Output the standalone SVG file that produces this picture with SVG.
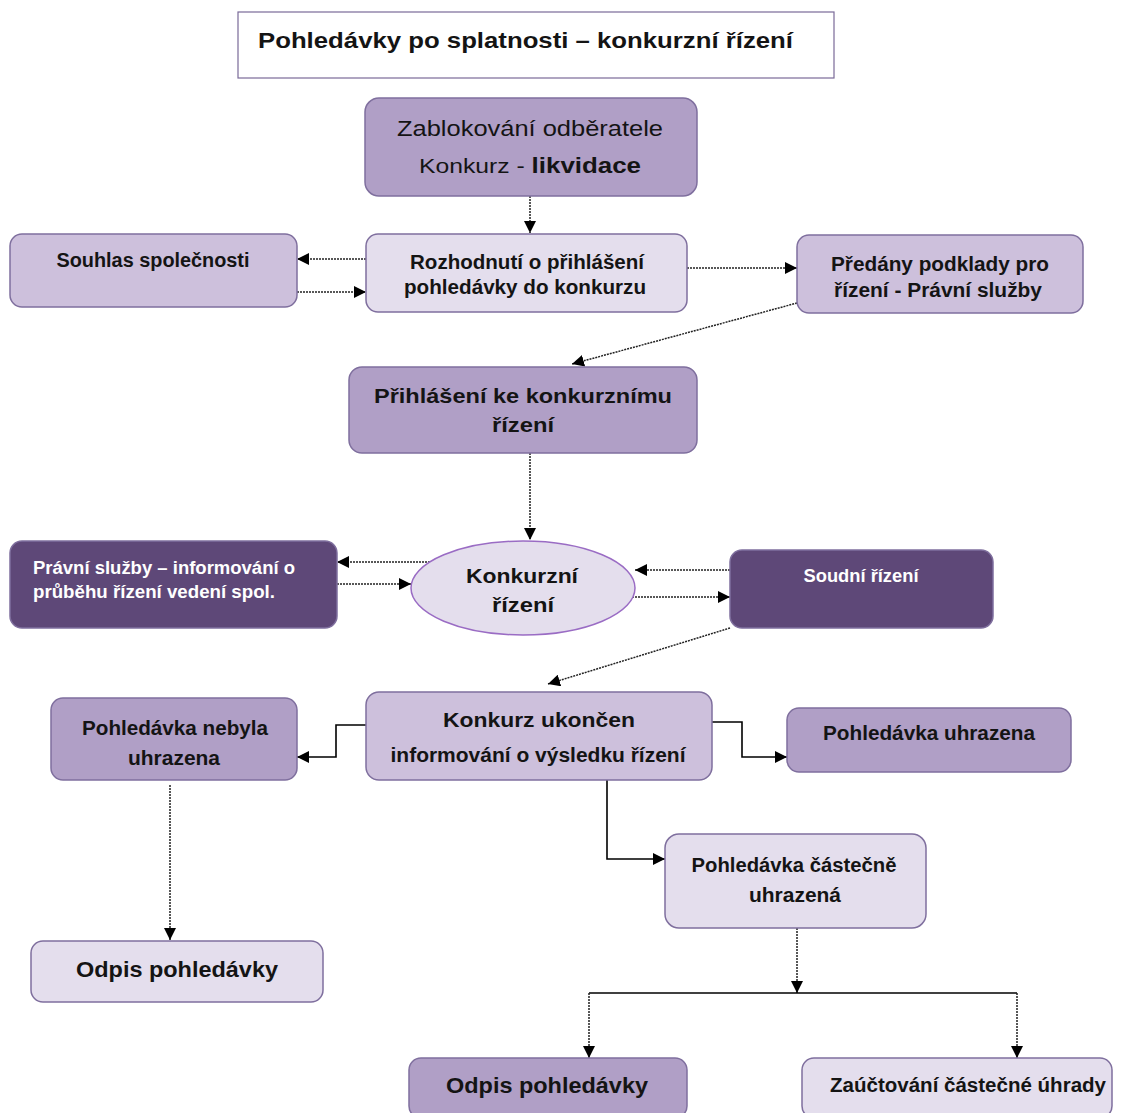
<svg xmlns="http://www.w3.org/2000/svg" width="1133" height="1113" viewBox="0 0 1133 1113">
<defs>
<marker id="ah" viewBox="0 0 10 10" refX="10" refY="5" markerWidth="12" markerHeight="12" markerUnits="userSpaceOnUse" orient="auto">
<path d="M0,0 L10,5 L0,10 z" fill="#000"/>
</marker>
<style>
.box{stroke:#7f6f9e;stroke-width:1.5}
.mid{fill:#b09fc6}
.lt{fill:#cdc0dc}
.vl{fill:#e4deed}
.dk{fill:#5e4878}
text{font-family:"Liberation Sans",Arial,sans-serif;font-weight:bold;fill:#141414;text-anchor:middle;font-size:20px}
.w{fill:#ffffff}
.dot{fill:none;stroke:#222;stroke-width:1.5;stroke-dasharray:2,1}
.sol{fill:none;stroke:#000;stroke-width:1.6}
</style>
</defs>
<rect width="1133" height="1113" fill="#fff"/>

<g id="title">
<rect x="238" y="12" width="596" height="66" fill="#fff" stroke="#7a6a98" stroke-width="1.2"/>
<text x="258" y="48" style="text-anchor:start;font-size:22px" textLength="535" lengthAdjust="spacingAndGlyphs">Pohledávky po splatnosti – konkurzní řízení</text>
</g>

<g id="connectors">
<path class="dot" d="M530,196 V233" marker-end="url(#ah)"/>
<path class="dot" d="M366,259 H297" marker-end="url(#ah)"/>
<path class="dot" d="M297,292 H366" marker-end="url(#ah)"/>
<path class="dot" d="M687,268 H797" marker-end="url(#ah)"/>
<path class="dot" d="M797,303 L572,364" marker-end="url(#ah)"/>
<path class="dot" d="M530,453 V540" marker-end="url(#ah)"/>
<path class="dot" d="M430,562 H337" marker-end="url(#ah)"/>
<path class="dot" d="M337,584 H411" marker-end="url(#ah)"/>
<path class="dot" d="M730,570 H635" marker-end="url(#ah)"/>
<path class="dot" d="M632,597 H730" marker-end="url(#ah)"/>
<path class="dot" d="M730,628 L548,684" marker-end="url(#ah)"/>
<path class="sol" d="M366,725 H336 V757 H297" marker-end="url(#ah)"/>
<path class="sol" d="M712,722 H742 V757 H787" marker-end="url(#ah)"/>
<path class="sol" d="M607,780 V859 H665" marker-end="url(#ah)"/>
<path class="dot" d="M170,785 V940" marker-end="url(#ah)"/>
<path class="dot" d="M797,928 V993" marker-end="url(#ah)"/>
<path class="sol" d="M589,993 H1017" style="stroke-width:1.3"/>
<path class="dot" d="M589,993 V1058" marker-end="url(#ah)"/>
<path class="dot" d="M1017,993 V1058" marker-end="url(#ah)"/>
</g>

<g id="n_zablokovani">
<rect class="box mid" x="365" y="98" width="332" height="98" rx="14"/>
<text x="530" y="136" style="font-weight:normal;font-size:22px" textLength="266" lengthAdjust="spacingAndGlyphs">Zablokování odběratele</text>
<text x="530" y="173" style="font-weight:normal;font-size:21px" textLength="222" lengthAdjust="spacingAndGlyphs">Konkurz - <tspan font-weight="bold" font-size="22">likvidace</tspan></text>
</g>

<g id="n_souhlas">
<rect class="box lt" x="10" y="234" width="287" height="73" rx="12"/>
<text x="153" y="267" textLength="193" lengthAdjust="spacingAndGlyphs">Souhlas společnosti</text>
</g>

<g id="n_rozhodnuti">
<rect class="box vl" x="366" y="234" width="321" height="78" rx="12"/>
<text x="527" y="269" textLength="234" lengthAdjust="spacingAndGlyphs">Rozhodnutí o přihlášení</text>
<text x="525" y="294" textLength="242" lengthAdjust="spacingAndGlyphs">pohledávky do konkurzu</text>
</g>

<g id="n_predany">
<rect class="box lt" x="797" y="235" width="286" height="78" rx="12"/>
<text x="940" y="271" textLength="218" lengthAdjust="spacingAndGlyphs">Předány podklady pro</text>
<text x="938" y="297" textLength="208" lengthAdjust="spacingAndGlyphs">řízení - Právní služby</text>
</g>

<g id="n_prihlaseni">
<rect class="box mid" x="349" y="367" width="348" height="86" rx="13"/>
<text x="523" y="403" style="font-size:21px" textLength="298" lengthAdjust="spacingAndGlyphs">Přihlášení ke konkurznímu</text>
<text x="523" y="432" style="font-size:21px" textLength="62" lengthAdjust="spacingAndGlyphs">řízení</text>
</g>

<g id="n_konkurzni">
<ellipse cx="523" cy="588" rx="112" ry="47" fill="#e4deed" stroke="#9a6cc4" stroke-width="1.5"/>
<text x="522" y="583" style="font-size:21px" textLength="112" lengthAdjust="spacingAndGlyphs">Konkurzní</text>
<text x="523" y="612" style="font-size:21px" textLength="62" lengthAdjust="spacingAndGlyphs">řízení</text>
</g>

<g id="n_pravni">
<rect class="box dk" x="10" y="541" width="327" height="87" rx="12"/>
<text class="w" x="33" y="574" style="text-anchor:start;font-size:18px" textLength="262" lengthAdjust="spacingAndGlyphs">Právní služby – informování o</text>
<text class="w" x="33" y="598" style="text-anchor:start;font-size:18px" textLength="242" lengthAdjust="spacingAndGlyphs">průběhu řízení vedení spol.</text>
</g>

<g id="n_soudni">
<rect class="box dk" x="730" y="550" width="263" height="78" rx="12"/>
<text class="w" x="861" y="582" style="font-size:18px" textLength="115" lengthAdjust="spacingAndGlyphs">Soudní řízení</text>
</g>

<g id="n_ukoncen">
<rect class="box lt" x="366" y="692" width="346" height="88" rx="13"/>
<text x="539" y="727" style="font-size:21px" textLength="192" lengthAdjust="spacingAndGlyphs">Konkurz ukončen</text>
<text x="538" y="762" textLength="295" lengthAdjust="spacingAndGlyphs">informování o výsledku řízení</text>
</g>

<g id="n_nebyla">
<rect class="box mid" x="51" y="698" width="246" height="82" rx="12"/>
<text x="175" y="735" textLength="186" lengthAdjust="spacingAndGlyphs">Pohledávka nebyla</text>
<text x="174" y="765" textLength="92" lengthAdjust="spacingAndGlyphs">uhrazena</text>
</g>

<g id="n_uhrazena">
<rect class="box mid" x="787" y="708" width="284" height="64" rx="12"/>
<text x="929" y="740" textLength="212" lengthAdjust="spacingAndGlyphs">Pohledávka uhrazena</text>
</g>

<g id="n_castecne">
<rect class="box vl" x="665" y="834" width="261" height="94" rx="14"/>
<text x="794" y="872" textLength="205" lengthAdjust="spacingAndGlyphs">Pohledávka částečně</text>
<text x="795" y="902" textLength="92" lengthAdjust="spacingAndGlyphs">uhrazená</text>
</g>

<g id="n_odpis1">
<rect class="box vl" x="31" y="941" width="292" height="61" rx="12"/>
<text x="177" y="977" style="font-size:22px" textLength="202" lengthAdjust="spacingAndGlyphs">Odpis pohledávky</text>
</g>

<g id="n_odpis2">
<rect class="box mid" x="409" y="1058" width="278" height="60" rx="12"/>
<text x="547" y="1093" style="font-size:22px" textLength="202" lengthAdjust="spacingAndGlyphs">Odpis pohledávky</text>
</g>

<g id="n_zauctovani">
<rect class="box vl" x="802" y="1058" width="310" height="60" rx="12"/>
<text x="968" y="1092" textLength="276" lengthAdjust="spacingAndGlyphs">Zaúčtování částečné úhrady</text>
</g>
</svg>
